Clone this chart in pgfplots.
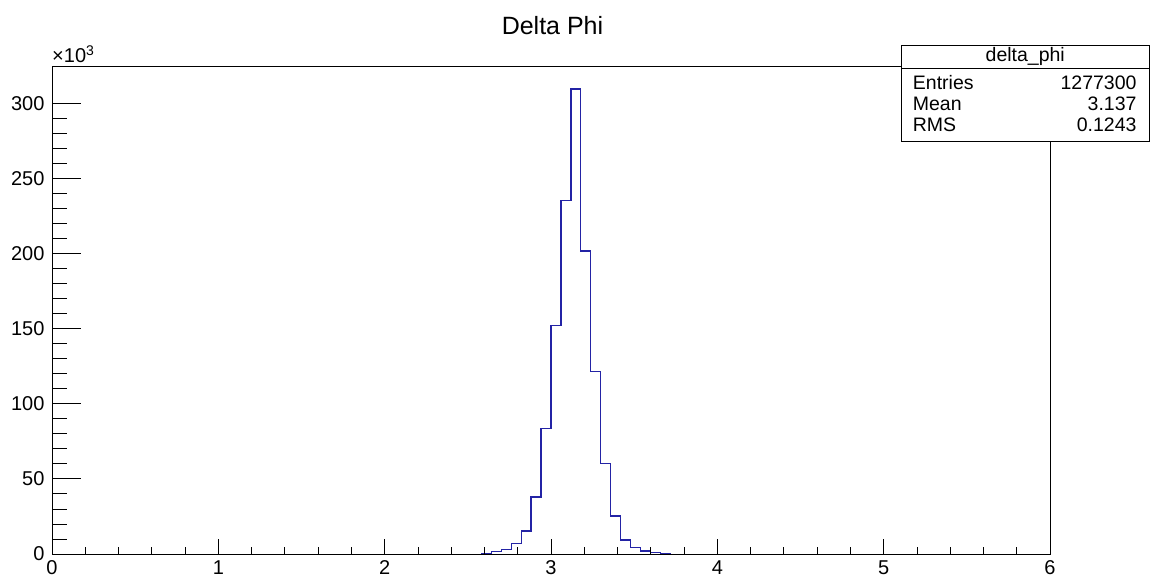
\documentclass[border=0pt]{standalone}
\usepackage{pgfplots}
\pgfplotsset{compat=1.18}
\usepackage{fontspec}
\setmainfont{Liberation Sans}
\definecolor{histblue}{RGB}{35,35,165}
\begin{document}
\begin{tikzpicture}[x=1pt,y=1pt]
\useasboundingbox (0,0) rectangle (1151,576);
\begin{axis}[
  at={(52pt,22pt)}, anchor=south west,
  scale only axis, width=998pt, height=488pt,
  xmin=0, xmax=6, ymin=0, ymax=324.7,
  xtick={0,1,2,3,4,5,6}, ytick={0,50,100,150,200,250,300},
  minor x tick num=4, minor y tick num=4,
  tick align=inside, xtick pos=bottom, ytick pos=left,
  major tick length=29pt, minor tick length=15pt,
  xtick style={/pgfplots/major tick length=15pt,/pgfplots/minor tick length=7pt},
  axis line style={line width=0.9pt},
  axis on top,
  every tick/.style={black, line width=0.8pt},
  tick label style={font=\fontsize{20}{23}\selectfont},
  xticklabel style={anchor=base, inner sep=0pt, yshift=-20pt},
  yticklabel style={xshift=-4pt},
  /pgf/number format/assume math mode=true,
]
\addplot[const plot, histblue, line width=1.1pt] coordinates {
(2.58,0) (2.58,0.5) (2.64,1.5) (2.70,3.1) (2.76,7.1) (2.82,15.3)
(2.88,37.9) (2.94,83.4) (3.00,151.9) (3.06,235.5) (3.12,309.4)
(3.18,201.6) (3.24,121.3) (3.30,60.3) (3.36,25.3) (3.42,9.3)
(3.48,4.2) (3.54,2.0) (3.60,0.8) (3.66,0.3) (3.72,0)
};
\end{axis}
\node[anchor=base, inner sep=0pt, font=\fontsize{25}{30}\selectfont] at (552.5,541) {Delta Phi};
\node[anchor=base west, inner sep=0pt, font=\fontsize{20}{23}\selectfont] at (52,513) {×10\textsuperscript{3}};
\draw[fill=white, line width=0.9pt] (901.5,531) rectangle (1149,435);
\draw[line width=0.9pt] (901.5,508) -- (1149,508);
\begin{scope}[every node/.style={inner sep=0pt, font=\fontsize{19.5}{23}\selectfont}]
\node[anchor=base] at (1025.25,514) {delta\_phi};
\node[anchor=base west] at (912.7,486.7) {Entries};
\node[anchor=base east] at (1136.7,486.7) {1277300};
\node[anchor=base west] at (912.7,465) {Mean};
\node[anchor=base east] at (1136.7,465) {3.137};
\node[anchor=base west] at (912.7,444.3) {RMS};
\node[anchor=base east] at (1136.7,444.3) {0.1243};
\end{scope}
\end{tikzpicture}
\end{document}
